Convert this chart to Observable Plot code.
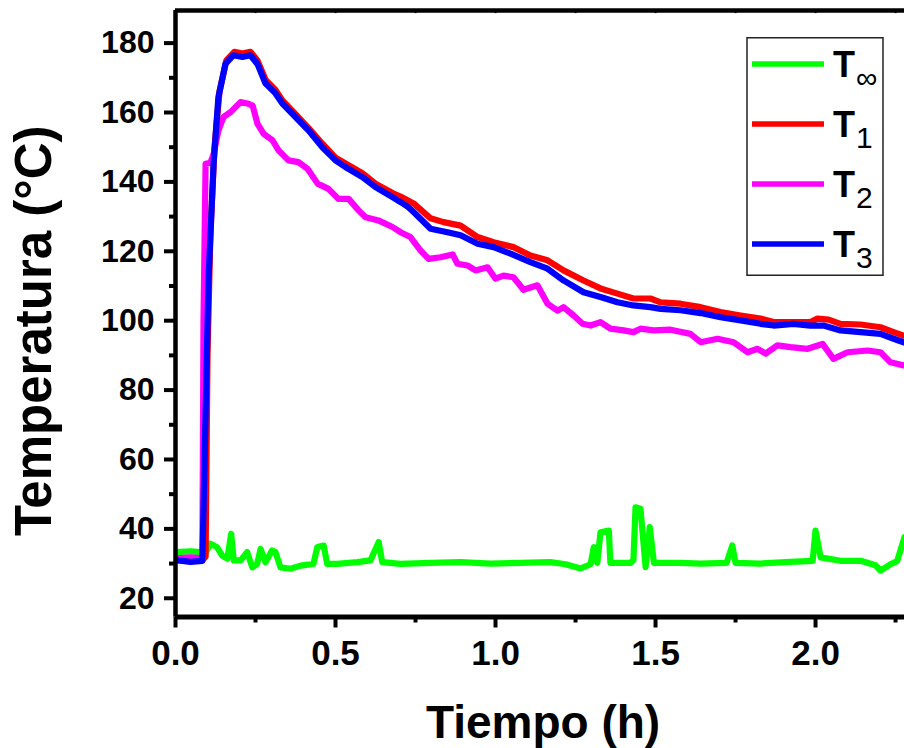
<!DOCTYPE html>
<html>
<head>
<meta charset="utf-8">
<script src="https://cdn.jsdelivr.net/npm/d3@7"></script>
<script src="https://cdn.jsdelivr.net/npm/@observablehq/plot@0.6"></script>
<style>
  html, body { margin: 0; padding: 0; background: #fff; overflow: hidden; }
  #wrap { position: relative; width: 904px; height: 748px; }
  #legend { position: absolute; left: 746px; top: 37px; }
</style>
</head>
<body>
<div id="wrap"></div>
<script>
// ---- Data ----
const seriesNames = ["T∞", "T1", "T2", "T3"];
const seriesSubs = ["∞", "1", "2", "3"];
const seriesColors = ["#00ff00", "#ff0000", "#ff00ff", "#0000ff"];

const tInfTime = [0.003,0.047,0.078,0.094,0.109,0.130,0.146,0.162,0.174,0.182,0.203,0.224,0.240,0.255,0.266,0.281,0.302,0.3125,0.328,0.359,0.391,0.431,0.443,0.453,0.463,0.474,0.505,0.568,0.609,0.635,0.646,0.703,0.797,0.891,0.984,1.078,1.172,1.219,1.266,1.297,1.307,1.318,1.328,1.354,1.359,1.422,1.431,1.4375,1.453,1.469,1.482,1.495,1.578,1.641,1.722,1.740,1.750,1.828,1.922,1.991,2.000,2.016,2.078,2.141,2.1875,2.203,2.234,2.255,2.278];
const tInfTemp = [33.3,33.5,33.3,33,35.7,34.7,32.3,31.4,38.6,30.9,30.9,33.3,28.9,29.9,34.2,30.4,33.8,33.3,28.9,28.5,29.4,29.9,34.7,35,35.2,29.9,29.9,30.4,30.9,36.2,30.4,29.9,30.2,30.4,30,30.2,30.4,29.8,28.6,29.8,34.7,30.2,39,39.5,30.2,30.2,31,46.2,45.8,29,40.5,30.2,30.2,30,30.2,35.2,30.2,30,30.5,30.8,39.5,31.8,30.8,30.8,29.5,28,29.8,30.7,37.6];

const t1Time = [0.003,0.047,0.084,0.094,0.100,0.109,0.122,0.1375,0.159,0.184,0.209,0.234,0.256,0.281,0.3125,0.334,0.375,0.416,0.459,0.500,0.531,0.584,0.625,0.678,0.703,0.744,0.797,0.8375,0.891,0.944,0.994,1.056,1.109,1.1625,1.2125,1.275,1.328,1.381,1.431,1.484,1.516,1.578,1.641,1.703,1.766,1.828,1.869,1.931,1.984,2.006,2.041,2.078,2.141,2.203,2.244,2.275];
const t1Temp = [31,30.8,31,32,90,125,150,166,175,177.5,177,177.5,175,169.5,166.5,163.5,159.5,155.5,151,147,145.3,142.5,139.5,136.8,135.8,133.8,129.5,128.4,127.4,124.1,122.6,121.2,118.8,117.4,114.5,111.6,109.3,107.8,106.4,106.4,105.3,104.9,103.9,102.5,101.5,100.6,99.6,99.6,99.6,100.6,100.3,99.1,98.9,98.1,96.7,95.7];

const t2Time = [0.003,0.047,0.084,0.0875,0.094,0.109,0.119,0.134,0.150,0.172,0.203,0.228,0.241,0.256,0.275,0.303,0.322,0.353,0.384,0.4125,0.444,0.478,0.509,0.541,0.572,0.594,0.634,0.678,0.703,0.734,0.766,0.791,0.828,0.866,0.881,0.9125,0.9375,0.975,1.000,1.025,1.056,1.0875,1.131,1.1625,1.194,1.2125,1.244,1.272,1.297,1.328,1.359,1.400,1.431,1.453,1.494,1.547,1.609,1.641,1.694,1.744,1.7875,1.819,1.844,1.881,1.922,1.975,2.022,2.056,2.100,2.1625,2.203,2.234,2.275];
const t2Temp = [31.5,31.8,31.5,100,145.2,145.5,148,154.8,158.7,160.1,163,162.5,162,156.8,153.9,152,149.1,146.2,145.7,143.8,139.5,138,135.1,135.1,131.8,129.8,128.9,127,125.5,124.1,120.2,117.8,118.3,119.1,116.4,115.9,114.5,115.4,112.1,113,112.5,108.9,110.2,104.9,102.9,103.9,101.5,99.1,98.6,99.6,97.7,97.2,96.7,97.7,97.2,97.4,96.2,93.8,94.8,93.8,90.9,91.9,90.5,92.9,92.4,91.9,93.3,89,90.9,91.4,90.9,88,87.1];

const t3Time = [0.003,0.047,0.084,0.091,0.103,0.119,0.134,0.156,0.181,0.209,0.234,0.256,0.281,0.3125,0.334,0.375,0.416,0.459,0.500,0.531,0.584,0.625,0.678,0.703,0.728,0.744,0.797,0.850,0.891,0.944,0.994,1.047,1.109,1.1625,1.2125,1.275,1.328,1.381,1.431,1.484,1.516,1.578,1.641,1.703,1.766,1.828,1.869,1.931,1.984,2.025,2.078,2.141,2.203,2.244,2.275];
const t3Temp = [31,30.5,30.8,60,111.6,145.3,164.4,174,176.5,176,176.5,174,168.4,165.5,162.6,158.7,154.8,150,146.2,144.3,141.4,138.5,135.6,134.2,132.7,131.3,126.5,125.5,124.6,122.2,121.2,119.3,116.9,115,111.6,108.2,106.8,105.3,104.4,103.9,103.4,103,102.2,101,100.1,99.1,98.6,99.1,98.6,98.6,97.2,96.7,96.2,94.8,93.8];

const xMajorTicks = [0, 0.5, 1.0, 1.5, 2.0];
const xMinorTicks = [0.25, 0.75, 1.25, 1.75, 2.25];
const xTopTicks = [0.25, 0.5, 0.75, 1.0, 1.25, 1.5, 1.75, 2.0, 2.25];
const yMajorTicks = [20, 40, 60, 80, 100, 120, 140, 160, 180];
const yMinorTicks = [30, 50, 70, 90, 110, 130, 150, 170];
const xDomain = [0, 2.278];
const yDomain = [14.6, 189.4];
const xTitle = "Tiempo (h)";
const yTitle = "Temperatura (°C)";

// ---- Build table ----
const times = [tInfTime, t1Time, t2Time, t3Time];
const temps = [tInfTemp, t1Temp, t2Temp, t3Temp];
const rows = seriesNames.flatMap((s, i) => times[i].map((t, j) => ({t, v: temps[i][j], s})));

const FONT = "'Liberation Sans', Arial, Helvetica, sans-serif";

const chart = Plot.plot({
  width: 904,
  height: 748,
  marginLeft: 175,
  marginRight: 0,
  marginTop: 10,
  marginBottom: 131.5,
  x: {domain: xDomain},
  y: {domain: yDomain},
  color: {domain: seriesNames, range: seriesColors},
  style: {fontFamily: FONT, fontWeight: "bold", color: "black", background: "white", overflow: "visible"},
  marks: [
    Plot.line(rows, {x: "t", y: "v", z: "s", stroke: "s", strokeWidth: 6.2, strokeLinejoin: "round", strokeLinecap: "round", clip: true}),
    Plot.axisY(yMajorTicks, {tickSize: 11, tickPadding: 10, fontSize: 32, fontWeight: "bold", strokeWidth: 4, label: null}),
    Plot.axisY(yMinorTicks, {tickSize: 6, tickFormat: () => "", strokeWidth: 4, label: null}),
    Plot.axisX(xMajorTicks, {tickSize: 11, tickPadding: 12, fontSize: 35, fontWeight: "bold", tickFormat: d3.format(".1f"), strokeWidth: 4, label: null}),
    Plot.axisX(xMinorTicks, {tickSize: 6, tickFormat: () => "", strokeWidth: 4, label: null}),
    Plot.ruleX(xTopTicks, {y1: yDomain[1], y2: yDomain[1] - 0.9, strokeWidth: 2}),
    Plot.ruleX([xDomain[0]], {strokeWidth: 4.5}),
    Plot.ruleY([yDomain[0]], {strokeWidth: 5}),
    Plot.ruleY([yDomain[1]], {strokeWidth: 4.5}),
    Plot.text([yTitle], {text: d => d, frameAnchor: "left", rotate: -90, dx: -141, dy: 17, fontSize: 51, fontWeight: "bold", lineAnchor: "middle", textAnchor: "middle"}),
    Plot.text([xTitle], {text: d => d, frameAnchor: "bottom", dx: 3, dy: 88, fontSize: 46, fontWeight: "bold", lineAnchor: "top", textAnchor: "middle"})
  ]
});

const wrap = document.getElementById("wrap");
wrap.appendChild(chart);

// ---- Legend (inside the plot area, upper right) ----
const lg = d3.select(wrap).append("svg")
  .attr("id", "legend")
  .attr("width", 138).attr("height", 240)
  .style("font-family", FONT);
lg.append("rect").attr("x", 1).attr("y", 0.75).attr("width", 136).attr("height", 237.5)
  .attr("fill", "white").attr("stroke", "#222").attr("stroke-width", 1.5);
seriesNames.forEach((name, i) => {
  const cy = 27 + 60 * i;
  lg.append("line").attr("x1", 6).attr("x2", 78).attr("y1", cy).attr("y2", cy)
    .attr("stroke", seriesColors[i]).attr("stroke-width", 5.5);
  lg.append("text").attr("x", 87).attr("y", cy + 12.5)
    .attr("font-size", 36).attr("font-weight", "bold").text("T");
  lg.append("text").attr("x", 110).attr("y", cy + 24)
    .attr("font-size", 30).attr("font-weight", "normal").text(seriesSubs[i]);
});
</script>
</body>
</html>
